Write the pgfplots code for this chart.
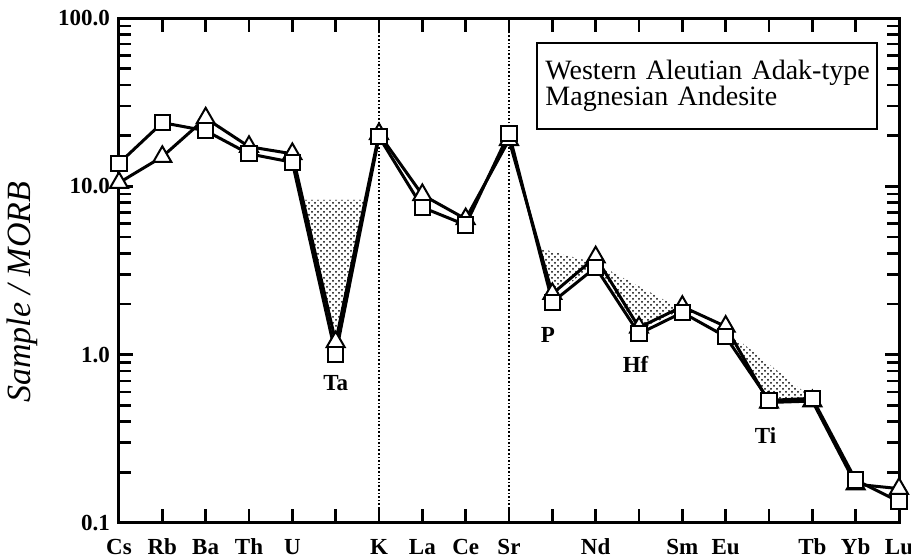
\documentclass[border=0pt]{standalone}
\usepackage{pgfplots}
\pgfplotsset{compat=1.18}
\usepackage{fontspec}
\setmainfont{Liberation Serif}
\usetikzlibrary{patterns}

\pgfplotstableread{
x tri sq
0 10.5 13.7
1 15.0 23.9
2 25.4 21.4
3 17.2 15.6
4 15.6 13.9
5 1.19 1.0
6 20.5 19.7
7 8.9 7.5
8 6.4 5.9
9 18.9 20.7
10 2.3 2.05
11 3.8 3.3
12 1.45 1.33
13 1.93 1.78
14 1.47 1.28
15 0.52 0.535
16 0.53 0.55
17 0.17 0.18
18 0.16 0.134
}\datatable

\begin{document}
\begin{tikzpicture}
\useasboundingbox (-59.5pt,-18.5pt) rectangle (396pt,261.5pt);
\begin{axis}[
  at={(0,0)}, anchor=south west,
  scale only axis, width=390pt, height=252.5pt,
  xmin=0, xmax=18, ymode=log, ymin=0.1, ymax=100,
  xtick={0,...,18},
  xticklabels={Cs,Rb,Ba,Th,U,,K,La,Ce,Sr,,Nd,,Sm,Eu,,Tb,Yb,Lu},
  ytick={0.1,1,10,100}, yticklabels={0.1,1.0,10.0,100.0},
  minor ytick={0.2,0.3,0.4,0.5,0.6,0.7,0.8,0.9,2,3,4,5,6,7,8,9,20,30,40,50,60,70,80,90},
  tick align=inside, major tick length=7pt, minor tick length=6pt,
  axis line style={line width=1.5pt},
  tick style={line width=1.2pt, black},
  ticklabel style={font=\bfseries\fontsize{11.5}{13}\selectfont},
  xticklabel style={yshift=-4pt, text height=1.8ex, text depth=0pt},
  yticklabel style={xshift=-1pt},
  clip=false,
]
% shaded anomaly regions
\addplot[draw=none, pattern=crosshatch dots, pattern color=black] coordinates {(4.245,8.3) (5,1.19) (5.689,8.3)} -- cycle;
\addplot[draw=none, pattern=crosshatch dots, pattern color=black] coordinates {(9.68,4.3) (10,2.2) (11,3.5)} -- cycle;
\addplot[draw=none, pattern=crosshatch dots, pattern color=black] coordinates {(11,3.5) (12,1.4) (13,1.85)} -- cycle;
\addplot[draw=none, pattern=crosshatch dots, pattern color=black] coordinates {(14,1.4) (15,0.53) (16,0.55)} -- cycle;
% dotted vertical lines
\addplot[densely dotted, line width=0.8pt] coordinates {(6,0.1) (6,100)};
\addplot[densely dotted, line width=0.8pt] coordinates {(9,0.1) (9,100)};
% data
\addplot[line width=1.5pt, mark=triangle*, mark size=5.2pt, mark options={fill=white, draw=black, line width=1pt}] table[x=x, y=tri] {\datatable};
\addplot[line width=1.5pt, mark=square*, mark size=3.8pt, mark options={fill=white, draw=black, line width=1pt}] table[x=x, y=sq] {\datatable};
% labels
\node[font=\bfseries\fontsize{11.5}{13}\selectfont] at (axis cs:5,0.68) {Ta};
\node[font=\bfseries\fontsize{11.5}{13}\selectfont] at (axis cs:9.9,1.31) {P};
\node[font=\bfseries\fontsize{11.5}{13}\selectfont] at (axis cs:11.92,0.87) {Hf};
\node[font=\bfseries\fontsize{11.5}{13}\selectfont] at (axis cs:14.92,0.333) {Ti};
\node[draw, line width=1pt, fill=white, align=left, text width=162pt, inner xsep=4pt, minimum height=43pt,
  font=\fontsize{14}{13}\selectfont] at (axis cs:13.58,39.5) {\mbox{Western Aleutian Adak-type}\\Magnesian Andesite};
\node[rotate=90, font=\itshape\fontsize{17}{17}\selectfont] at ([xshift=-48.5pt]rel axis cs:0,0.457) {Sample / MORB};
\end{axis}
\end{tikzpicture}
\end{document}
